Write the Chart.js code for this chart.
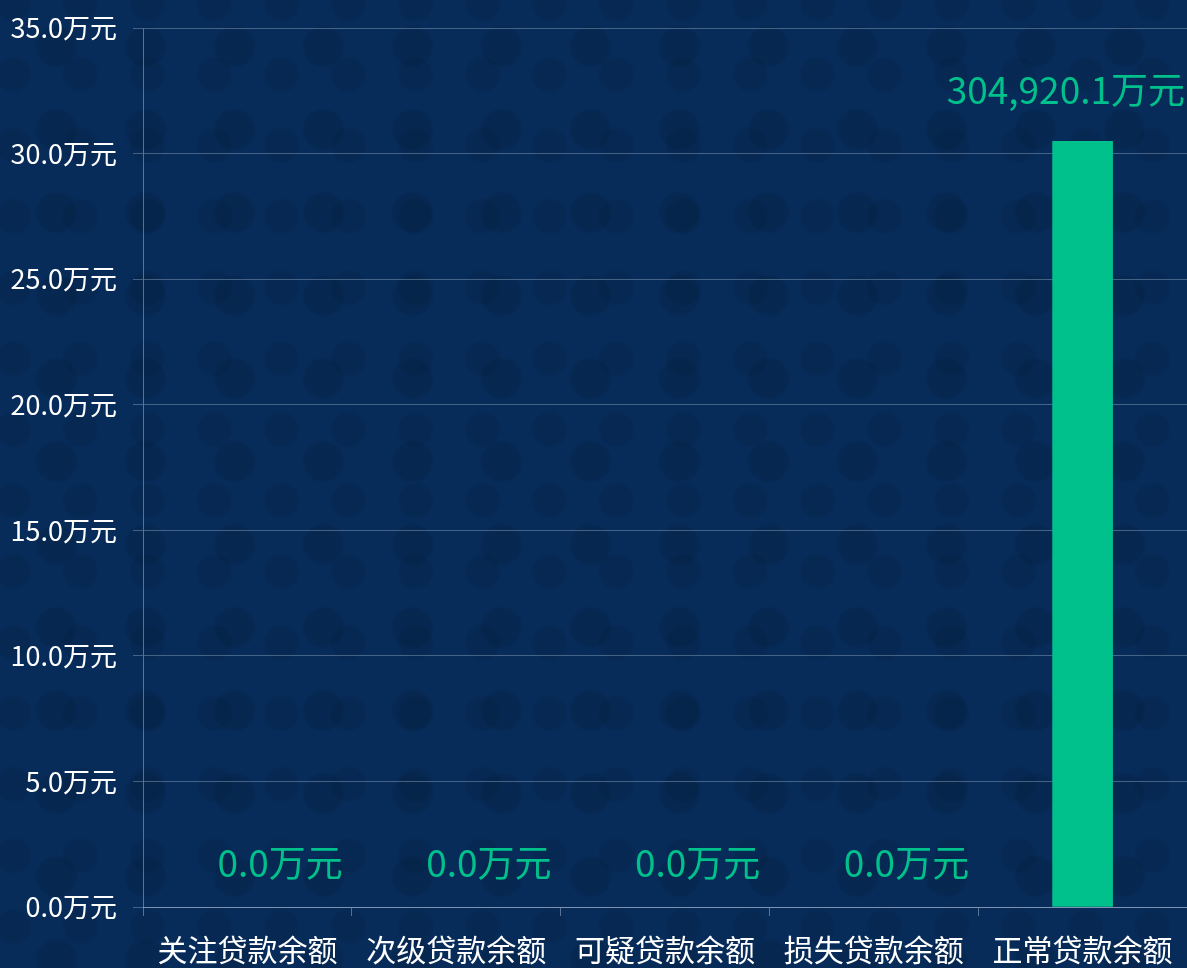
<!DOCTYPE html>
<html>
<head>
<meta charset="utf-8">
<script src="https://cdn.jsdelivr.net/npm/chart.js@4/dist/chart.umd.min.js"></script>
<style>
  html, body { margin: 0; padding: 0; }
  body {
    width: 1187px; height: 968px; overflow: hidden;
    background-color: #072c5a;
    background-image:
      radial-gradient(circle at 50% 50%, rgba(4,30,62,0.35) 0, rgba(4,30,62,0.35) 18px, transparent 22px),
      radial-gradient(circle at 50% 50%, rgba(4,30,62,0.28) 0, rgba(4,30,62,0.28) 15px, transparent 19px);
    background-size: 89px 83px, 67px 71px;
    background-position: 12px 5px, 47px 39px;
  }
  #wrap { position: relative; width: 1187px; height: 968px; }
</style>
</head>
<body>
<div id="wrap"><canvas id="c"></canvas></div>
<script>
// 贷款余额分类
var categories = ['关注贷款余额', '次级贷款余额', '可疑贷款余额', '损失贷款余额', '正常贷款余额'];
var balances = [0, 0, 0, 0, 304920.1];
var yMax = 350000;
var yStep = 50000;

var green = '#00c08c';
var cjk = '"Noto Sans CJK SC", "Noto Sans", sans-serif';

function fmtWan(v) {
    return v.toLocaleString('en-US', { minimumFractionDigits: 1, maximumFractionDigits: 1 }) + '万元';
}

// 柱顶数值，左对齐到柱子左边
var valueLabels = {
    id: 'valueLabels',
    afterDatasetsDraw: function (chart) {
        var ctx = chart.ctx;
        var meta = chart.getDatasetMeta(0);
        ctx.save();
        ctx.font = '37px ' + cjk;
        ctx.fillStyle = green;
        ctx.textBaseline = 'alphabetic';
        ctx.textAlign = 'left';
        meta.data.forEach(function (bar, i) {
            var txt = fmtWan(balances[i]);
            var w = ctx.measureText(txt).width;
            var x = bar.x - bar.width / 2;
            if (x + w > chart.width - 2) x = chart.width - 2 - w;
            var off = balances[i] > 0 ? 37 : 30;
            ctx.fillText(txt, x, bar.y - off);
        });
        ctx.restore();
    }
};

new Chart(document.getElementById('c'), {
    type: 'bar',
    data: {
        labels: categories,
        datasets: [{
            data: balances,
            backgroundColor: function (c) {
                return balances[c.dataIndex] > 0 ? green : 'rgba(0,0,0,0)';
            },
            barThickness: 60
        }]
    },
    options: {
        responsive: true,
        maintainAspectRatio: false,
        animation: false,
        layout: { padding: 0 },
        plugins: {
            legend: { display: false },
            tooltip: { enabled: false }
        },
        scales: {
            x: {
                grid: {
                    offset: true,
                    drawOnChartArea: false,
                    drawTicks: true,
                    tickLength: 9,
                    color: 'rgba(190,205,225,0.45)'
                },
                border: { color: 'rgba(190,205,225,0.45)' },
                ticks: {
                    color: '#ffffff',
                    font: { family: cjk, size: 30 },
                    maxRotation: 0,
                    autoSkip: false,
                    padding: 16
                },
                afterFit: function (s) {
                    s.height = 61;
                    s.paddingLeft = 0;
                    s.paddingRight = 0;
                }
            },
            y: {
                min: 0,
                max: yMax,
                grid: {
                    color: 'rgba(190,205,225,0.35)',
                    tickLength: 10
                },
                border: { color: 'rgba(190,205,225,0.45)' },
                ticks: {
                    stepSize: yStep,
                    color: '#ffffff',
                    font: { family: cjk, size: 27 },
                    padding: 16,
                    callback: function (v) { return (v / 10000).toFixed(1) + '万元'; }
                },
                afterFit: function (s) {
                    s.width = 143;
                    s.paddingTop = 28;
                    s.paddingBottom = 0;
                }
            }
        }
    },
    plugins: [valueLabels]
});
</script>
</body>
</html>
